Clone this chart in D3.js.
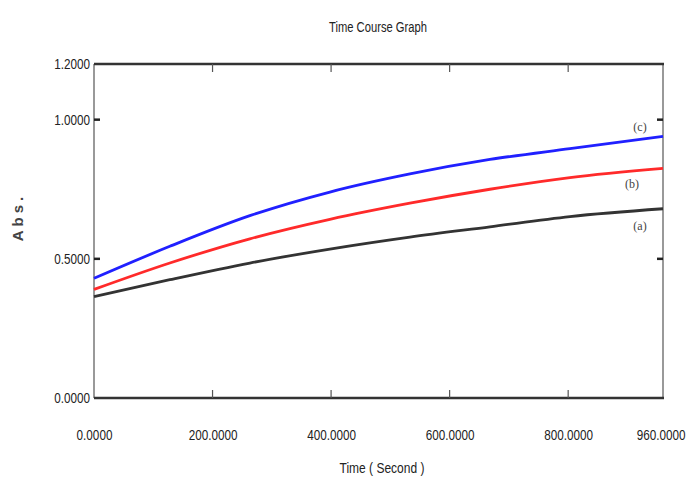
<!DOCTYPE html>
<html lang="en-US">
<head>
<meta charset="UTF-8">
<title>Time Course Graph</title>
<style>
  body {margin: 0; background: #fff;}
  svg text {font-family: "Liberation Sans", Arial, sans-serif; fill: #222;}
</style>
</head>
<body>
<div id="viz"></div>
<script src="https://d3js.org/d3.v7.min.js"></script>
<script>
// values
var timeSec = [0, 128, 263, 398, 533, 668, 803, 960];
var seriesA = [0.364, 0.425, 0.485, 0.535, 0.578, 0.615, 0.652, 0.68];
var seriesB = [0.39, 0.485, 0.572, 0.642, 0.70, 0.75, 0.792, 0.825];
var seriesC = [0.43, 0.545, 0.655, 0.74, 0.805, 0.857, 0.896, 0.94];
var seriesNames = ["(a)", "(b)", "(c)"];
var xTicks = [0, 200, 400, 600, 800, 960];
var yTicks = [0, 0.5, 1.0, 1.2];

var width = 688, height = 485;
var pLeft = 94, pRight = 663, pTop = 64, pBottom = 398;

var x = d3.scaleLinear().domain([0, 960]).range([pLeft, pRight]);
var y = d3.scaleLinear().domain([0, 1.2]).range([pBottom, pTop]);

var svg = d3.select("#viz").append("svg")
    .attr("width", width)
    .attr("height", height);

// squeeze text, the original uses a narrow face
function narrow(sel, k) {
    sel.each(function() {
        var w = this.getComputedTextLength();
        d3.select(this).attr("textLength", w * k).attr("lengthAdjust", "spacingAndGlyphs");
    });
}

// title
svg.append("text")
    .attr("x", 378).attr("y", 32)
    .attr("text-anchor", "middle")
    .attr("font-size", 14)
    .text("Time Course Graph")
    .call(narrow, 0.8);

// frame
svg.append("line").attr("x1", pLeft).attr("x2", pLeft).attr("y1", pTop).attr("y2", pBottom)
    .attr("stroke", "#777").attr("stroke-width", 1.5);
svg.append("line").attr("x1", pRight).attr("x2", pRight).attr("y1", pTop).attr("y2", pBottom)
    .attr("stroke", "#777").attr("stroke-width", 1.5);
svg.append("line").attr("x1", pLeft).attr("x2", pRight + 1).attr("y1", pTop).attr("y2", pTop)
    .attr("stroke", "#333").attr("stroke-width", 2.5);
svg.append("line").attr("x1", pLeft).attr("x2", pRight + 1).attr("y1", pBottom).attr("y2", pBottom)
    .attr("stroke", "#333").attr("stroke-width", 2.5);

// x axis, ticks inward on bottom and top
var xAxis = d3.axisBottom(x).tickValues(xTicks).tickSize(0).tickPadding(31)
    .tickFormat(d3.format(".4f"));
var gx = svg.append("g").attr("transform", "translate(0," + pBottom + ")").call(xAxis);
gx.select(".domain").remove();
gx.selectAll("text").attr("font-size", 15).attr("fill", "#222").attr("font-family", null)
    .call(narrow, 0.78);
// last label sits at the window edge: anchor it at its end
gx.selectAll("text").filter(function(d) { return d === 960; })
    .attr("text-anchor", "end").attr("dx", 22);

var inner = xTicks.slice(1, -1);
svg.append("g").selectAll("line").data(inner).enter().append("line")
    .attr("x1", function(d) { return x(d); }).attr("x2", function(d) { return x(d); })
    .attr("y1", pBottom).attr("y2", pBottom - 8)
    .attr("stroke", "#555").attr("stroke-width", 1.2);
svg.append("g").selectAll("line").data(inner).enter().append("line")
    .attr("x1", function(d) { return x(d); }).attr("x2", function(d) { return x(d); })
    .attr("y1", pTop).attr("y2", pTop + 8)
    .attr("stroke", "#555").attr("stroke-width", 1.2);

// y axis
var yAxis = d3.axisLeft(y).tickValues(yTicks).tickSize(0).tickPadding(4)
    .tickFormat(d3.format(".4f"));
var gy = svg.append("g").attr("transform", "translate(" + pLeft + ",0)").call(yAxis);
gy.select(".domain").remove();
gy.selectAll("text").attr("font-size", 15).attr("fill", "#222").attr("font-family", null)
    .call(narrow, 0.78);

var yInner = [0.5, 1.0];
svg.append("g").selectAll("line").data(yInner).enter().append("line")
    .attr("x1", pLeft).attr("x2", pLeft + 6)
    .attr("y1", function(d) { return y(d); }).attr("y2", function(d) { return y(d); })
    .attr("stroke", "#222").attr("stroke-width", 2.5);
svg.append("g").selectAll("line").data(yInner).enter().append("line")
    .attr("x1", pRight - 6).attr("x2", pRight)
    .attr("y1", function(d) { return y(d); }).attr("y2", function(d) { return y(d); })
    .attr("stroke", "#222").attr("stroke-width", 2.5);

// axis titles
svg.append("text")
    .attr("x", 382).attr("y", 473)
    .attr("text-anchor", "middle")
    .attr("font-size", 15)
    .text("Time ( Second )")
    .call(narrow, 0.8);

svg.append("text")
    .attr("transform", "translate(23,217) rotate(-90)")
    .attr("text-anchor", "middle")
    .attr("font-size", 15)
    .attr("font-weight", "bold")
    .attr("letter-spacing", 4)
    .style("fill", "#444")
    .text("Abs.");

// curves
var line = d3.line()
    .x(function(d) { return x(d[0]); })
    .y(function(d) { return y(d[1]); })
    .curve(d3.curveMonotoneX);

var series = [seriesA, seriesB, seriesC];
var colors = ["#333333", "#ff2a2a", "#2020ff"];

series.forEach(function(vals, i) {
    var pts = timeSec.map(function(t, j) { return [t, vals[j]]; });
    svg.append("path")
        .datum(pts)
        .attr("d", line)
        .attr("fill", "none")
        .attr("stroke", colors[i])
        .attr("stroke-width", 2.8);
});

// series labels
var labelPos = [[640, 230], [632, 188], [640, 131]];
seriesNames.forEach(function(name, i) {
    svg.append("text")
        .attr("x", labelPos[i][0]).attr("y", labelPos[i][1])
        .attr("text-anchor", "middle")
        .attr("font-size", 12)
        .style("font-family", "'Liberation Serif', 'DejaVu Serif', serif")
        .style("fill", "#444")
        .text(name);
});
</script>
</body>
</html>
